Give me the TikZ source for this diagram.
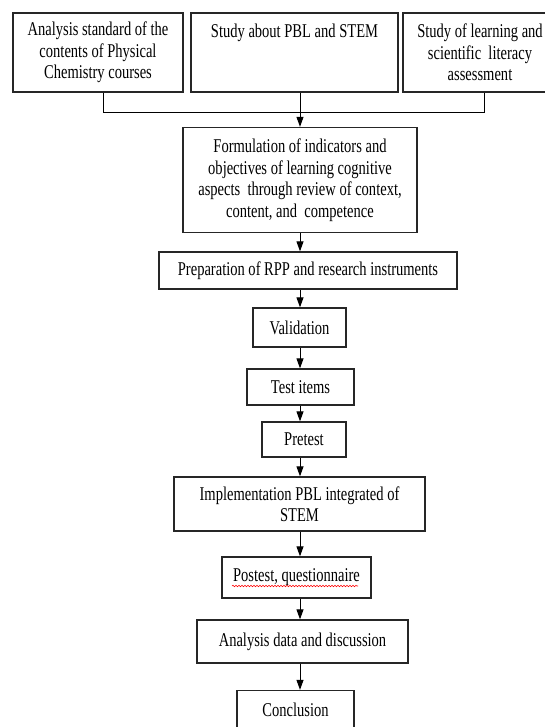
\documentclass[tikz,border=0pt]{standalone}
\usepackage{fontspec}
\setmainfont{Liberation Serif}[FakeStretch=0.745]
\usetikzlibrary{arrows.meta, decorations.pathmorphing}
\tikzstyle{box}     = [rectangle, draw=black!85, line width=1.3pt, align=center,
                       inner sep=0pt, font=\fontsize{19.5}{21.5}\selectfont]
\tikzstyle{arrow}   = [line width=1pt, ->, >={Triangle[length=10pt, width=7pt]}]
\tikzstyle{link}    = [line width=1pt]

\begin{document}
\begin{tikzpicture}[x=1pt, y=-1pt]
\clip (0,0) rectangle (545,727);
\fill[white] (0,0) rectangle (545,727);
\coordinate (spine) at (300,0);
\coordinate (join) at (300,113);
% top row
\node (analysis standard) [box, minimum width=170, minimum height=79] at (98,52.5)
  {Analysis standard of the\\ contents of Physical\\ Chemistry courses};
\node (study pbl) [box, minimum width=207, minimum height=79, text height=13pt, text depth=43pt] at (294.5,52.5)
  {Study about PBL and STEM};
\node (study literacy) [box, minimum width=154, minimum height=79] at (480,52.5)
  {Study of learning and\\ scientific\ \ literacy\\ assessment};
% main flow
\node (formulation) [box, minimum width=234, minimum height=105] at (300,180)
  {Formulation of indicators and\\ objectives of learning cognitive\\ aspects\ \ through review of context,\\ content, and\ \ competence};
\node (preparation) [box, minimum width=298, minimum height=37] at (308,270.5)
  {Preparation of RPP and research instruments};
\node (validation) [box, minimum width=93, minimum height=39] at (299.5,327.5) {Validation};
\node (test items) [box, minimum width=107, minimum height=36] at (300.5,387) {Test items};
\node (pretest) [box, minimum width=84, minimum height=35] at (304,439.5) {Pretest};
\node (implementation) [box, minimum width=251, minimum height=54] at (299.5,504)
  {Implementation PBL integrated of\\ STEM};
\node (postest) [box, minimum width=149, minimum height=41] at (296.5,577.5) {Postest, questionnaire};
\node (analysis data) [box, minimum width=211, minimum height=43] at (302.5,641.5) {Analysis data and discussion};
\node (conclusion) [box, minimum width=117, minimum height=38] at (295.5,709.5) {Conclusion};
% spell-check underline
\coordinate (wave start) at (232,586);
\coordinate (wave end) at (358,586);
\draw[red, line width=0.6pt, decorate, decoration={snake, amplitude=0.7pt, segment length=3pt}]
  (wave start) -- (wave end);
% connectors
\draw [link] ([xshift=5pt]analysis standard.south) |- (join);
\draw [link] ([xshift=4pt]study literacy.south) |- (join);
\draw [arrow] (study pbl.south -| spine) -- (formulation.north -| spine);
\draw [arrow] (formulation.south -| spine) -- (preparation.north -| spine);
\draw [arrow] (preparation.south -| spine) -- (validation.north -| spine);
\draw [arrow] (validation.south -| spine) -- (test items.north -| spine);
\draw [arrow] (test items.south -| spine) -- (pretest.north -| spine);
\draw [arrow] (pretest.south -| spine) -- (implementation.north -| spine);
\draw [arrow] (implementation.south -| spine) -- (postest.north -| spine);
\draw [arrow] (postest.south -| spine) -- (analysis data.north -| spine);
\draw [arrow] (analysis data.south -| spine) -- (conclusion.north -| spine);
\end{tikzpicture}
\end{document}
